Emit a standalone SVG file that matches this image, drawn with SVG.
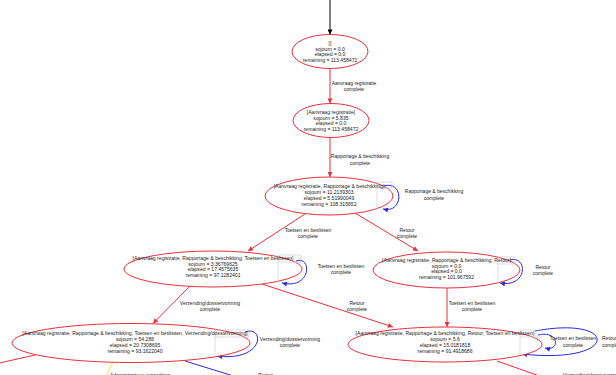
<svg xmlns="http://www.w3.org/2000/svg" width="616" height="375" viewBox="0 0 616 375">
<style>
.n ellipse{fill:#fff;stroke:#e8303c;stroke-width:1}
.n text,.lbl{font-family:"Liberation Sans",Arial,sans-serif;font-size:5.1px;fill:#222;text-anchor:middle}
.lbl{font-size:5px}
.ls{text-anchor:start}
.r{stroke:#e8303c;stroke-width:1;fill:none}
.b{stroke:#2a2ad8;stroke-width:1;fill:none}
.y{stroke:#f0e040;stroke-width:1;fill:none}
.k{stroke:#000;stroke-width:1;fill:none}
.g{stroke:#c4c8dc;stroke-width:0.6;fill:none}
</style>
<defs>
<marker id="ar" viewBox="0 0 10 10" refX="10" refY="5" markerWidth="6" markerHeight="5" orient="auto" markerUnits="userSpaceOnUse"><path d="M0,0L10,5L0,10z" fill="#e8303c"/></marker>
<marker id="ab" viewBox="0 0 10 10" refX="10" refY="5" markerWidth="6" markerHeight="5" orient="auto" markerUnits="userSpaceOnUse"><path d="M0,0L10,5L0,10z" fill="#2a2ad8"/></marker>
<marker id="ak" viewBox="0 0 10 10" refX="10" refY="5" markerWidth="6" markerHeight="5" orient="auto" markerUnits="userSpaceOnUse"><path d="M0,0L10,5L0,10z" fill="#000"/></marker>
</defs>
<g id="connectors">
<path class="k" d="M330,0V34.5" marker-end="url(#ak)"/>
<path class="r" d="M330,68.5V103.5" marker-end="url(#ar)"/>
<path class="r" d="M330,137.5V177" marker-end="url(#ar)"/>
<path class="r" d="M305,214L248,251" marker-end="url(#ar)"/>
<path class="r" d="M355,213L418,251" marker-end="url(#ar)"/>
<path class="r" d="M190,286L153,323.5" marker-end="url(#ar)"/>
<path class="r" d="M262,284L393,327" marker-end="url(#ar)"/>
<path class="r" d="M447,288V327" marker-end="url(#ar)"/>
<path class="b" d="M384,186C404,180 404,214 383,209" marker-end="url(#ab)"/>
<path class="b" d="M296,261C312,255 312,290 282,283" marker-end="url(#ab)"/>
<path class="b" d="M510,260C528,255 528,288 500,283" marker-end="url(#ab)"/>
<path class="b" d="M245,332C265,325 265,362 217,356" marker-end="url(#ab)"/>
<path class="b" d="M538,335C560,330 560,352 545,348" marker-end="url(#ab)"/>
<path class="b" d="M535,331C620,315 620,365 522,354" marker-end="url(#ab)"/>
<path class="y" d="M113,362L106,376"/>
<path class="b" d="M185,361L240,378"/>
<path class="r" d="M35,355L-5,364"/>
<path class="r" d="M497,361L545,378"/>
<text class="lbl" x="354" y="85">Aanvraag registratie</text>
<text class="lbl" x="354" y="91">complete</text>
<text class="lbl" x="360" y="158">Rapportage &amp; beschikking</text>
<text class="lbl" x="360" y="164.5">complete</text>
<text class="lbl" x="434" y="193">Rapportage &amp; beschikking</text>
<text class="lbl" x="434" y="199.5">complete</text>
<text class="lbl" x="308" y="231.5">Toetsen en beslissen</text>
<text class="lbl" x="308" y="238">complete</text>
<text class="lbl" x="407" y="231.5">Retour</text>
<text class="lbl" x="407" y="238">complete</text>
<text class="lbl" x="341" y="267.5">Toetsen en beslissen</text>
<text class="lbl" x="341" y="274">complete</text>
<text class="lbl" x="543" y="268.5">Retour</text>
<text class="lbl" x="543" y="275">complete</text>
<text class="lbl" x="210" y="304.5">Verzending/dossiervorming</text>
<text class="lbl" x="210" y="311">complete</text>
<text class="lbl" x="357" y="304.5">Retour</text>
<text class="lbl" x="357" y="311">complete</text>
<text class="lbl" x="472" y="304.5">Toetsen en beslissen</text>
<text class="lbl" x="472" y="311">complete</text>
<text class="lbl" x="290" y="340.5">Verzending/dossiervorming</text>
<text class="lbl" x="290" y="347">complete</text>
<text class="lbl" x="573" y="340">Toetsen en beslissen</text>
<text class="lbl" x="573" y="346.5">complete</text>
<text class="lbl ls" x="602" y="340">Retour</text>
<text class="lbl ls" x="602" y="346.5">complete</text>
<text class="lbl ls" x="110" y="376.5">Administratieve verwerking</text>
<text class="lbl ls" x="258" y="376.5">Retour</text>
<text class="lbl ls" x="563" y="376.5">Verzending/dossiervorming</text>
</g>
<g id="n1" class="n">
<ellipse cx="330" cy="51.5" rx="38" ry="17"/>
<text x="330" y="45">[]</text>
<text x="330" y="50.5">sojourn = 0.0</text>
<text x="330" y="56">elapsed = 0.0</text>
<text x="330" y="61.5">remaining = 113.458472</text>
</g>
<g id="n2" class="n">
<ellipse cx="331" cy="120.5" rx="38" ry="17"/>
<text x="331" y="114">[Aanvraag registratie]</text>
<text x="331" y="119.5">sojourn = 5.835</text>
<text x="331" y="125">elapsed = 0.0</text>
<text x="331" y="130.5">remaining = 113.458472</text>
</g>
<g id="n3" class="n">
<ellipse cx="329" cy="196" rx="64" ry="19"/>
<path class="g" d="M377,182V209M377,182H392V188H377"/>
<text x="329" y="188">[Aanvraag registratie, Rapportage &amp; beschikking]</text>
<text x="329" y="194">sojourn = 11.2139303</text>
<text x="329" y="200">elapsed = 5.51990049</text>
<text x="329" y="206">remaining = 108.315652</text>
</g>
<g id="n4" class="n">
<ellipse cx="213" cy="269" rx="89" ry="18"/>
<path class="g" d="M278,255V283M278,255H301V262H278"/>
<text x="213" y="260">[Aanvraag registratie, Rapportage &amp; beschikking, Toetsen en beslissen]</text>
<text x="213" y="265.5">sojourn = 3.36769625</text>
<text x="213" y="271">elapsed = 17.4575635</text>
<text x="213" y="276.5">remaining = 97.1282401</text>
</g>
<g id="n5" class="n">
<ellipse cx="446.5" cy="270" rx="73.5" ry="18"/>
<path class="g" d="M498,257V283M498,257H515V264H498"/>
<text x="446.5" y="262">[Aanvraag registratie, Rapportage &amp; beschikking, Retour]</text>
<text x="446.5" y="267.5">sojourn = 0.0</text>
<text x="446.5" y="273">elapsed = 0.0</text>
<text x="446.5" y="278.5">remaining = 101.967592</text>
</g>
<g id="n6" class="n">
<ellipse cx="131" cy="343" rx="119" ry="19.5"/>
<path class="g" d="M215,330V356M215,330H249V337H215"/>
<text x="135" y="335">[Aanvraag registratie, Rapportage &amp; beschikking, Toetsen en beslissen, Verzending/dossiervorming]</text>
<text x="135" y="341">sojourn = 54.286</text>
<text x="135" y="347">elapsed = 20.7308695</text>
<text x="135" y="353">remaining = 93.1622040</text>
</g>
<g id="n7" class="n">
<ellipse cx="445" cy="344.5" rx="97" ry="17.5"/>
<path class="g" d="M520,330V355M520,330H542V337H520"/>
<text x="445" y="335">[Aanvraag registratie, Rapportage &amp; beschikking, Retour, Toetsen en beslissen]</text>
<text x="445" y="341">sojourn = 5.6</text>
<text x="445" y="347">elapsed = 15.0181818</text>
<text x="445" y="353">remaining = 91.4918686</text>
</g>
</svg>
